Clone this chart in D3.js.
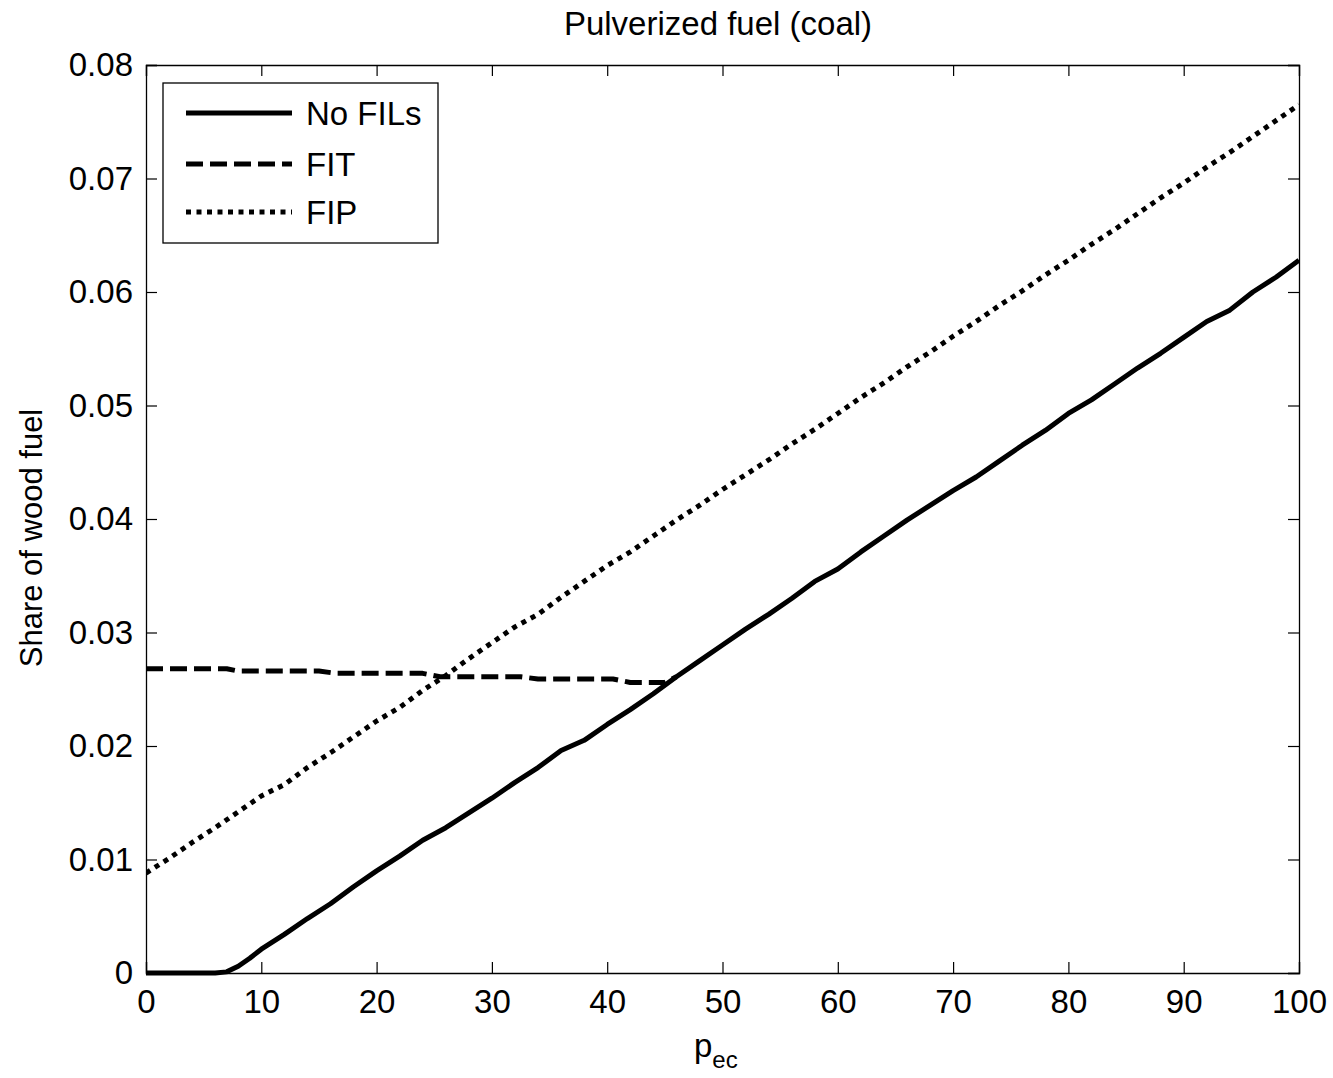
<!DOCTYPE html>
<html>
<head>
<meta charset="utf-8">
<script src="https://cdn.jsdelivr.net/npm/d3@7/dist/d3.min.js"></script>
<style>
  html, body { margin: 0; padding: 0; background: #fff; }
  svg { display: block; font-family: "Liberation Sans", Arial, sans-serif; }
</style>
</head>
<body>
<svg id="chart" width="1333" height="1078"></svg>
<script>
// Share of wood fuel vs. p_ec for a pulverized-fuel (coal) plant
const xTicks = [0, 10, 20, 30, 40, 50, 60, 70, 80, 90, 100];
const yTicks = [0, 0.01, 0.02, 0.03, 0.04, 0.05, 0.06, 0.07, 0.08];
const yTickLabels = ["0", "0.01", "0.02", "0.03", "0.04", "0.05", "0.06", "0.07", "0.08"];

// No FILs
const noFilsX = [0, 2, 4, 6, 7, 8, 9, 10, 12, 14, 16, 18, 20, 22, 24, 26, 28, 30, 32, 34, 36, 38, 40,
  42, 44, 46, 48, 50, 52, 54, 56, 58, 60, 62, 64, 66, 68, 70, 72, 74, 76, 78, 80,
  82, 84, 86, 88, 90, 92, 94, 96, 98, 100];
const noFilsY = [0, 0, 0, 0, 0.0001, 0.0006, 0.0013, 0.0021, 0.0034, 0.0048, 0.0061, 0.0076, 0.0090, 0.0103, 0.0117, 0.0128, 0.0141, 0.0154, 0.0168, 0.0181, 0.0196, 0.0205, 0.0219,
  0.0232, 0.0246, 0.0261, 0.0275, 0.0289, 0.0303, 0.0316, 0.0330, 0.0345, 0.0356, 0.0371, 0.0385, 0.0399, 0.0412, 0.0425, 0.0437, 0.0451, 0.0465, 0.0478, 0.0493,
  0.0505, 0.0519, 0.0533, 0.0546, 0.0560, 0.0574, 0.0584, 0.0600, 0.0613, 0.0628];

// FIT (follows the No FILs curve beyond the crossing)
const fitX = [0, 7, 8, 15, 16.5, 24, 25.5, 32.5, 34, 40.5, 42, 45, 46];
const fitY = [0.0268, 0.0268, 0.0266, 0.0266, 0.0264, 0.0264, 0.0261, 0.0261, 0.0259, 0.0259, 0.0256, 0.0256, 0.0261];

// FIP
const fipX = [0, 2, 4, 6, 8, 10, 12, 14, 16, 18, 20, 22, 24, 26, 28, 30, 32, 34, 36, 38, 40,
  42, 44, 46, 48, 50, 52, 54, 56, 58, 60, 62, 64, 66, 68, 70, 72, 74, 76, 78, 80,
  82, 84, 86, 88, 90, 92, 94, 96, 98, 100];
const fipY = [0.0088, 0.0101, 0.0115, 0.0128, 0.0142, 0.0156, 0.0166, 0.0181, 0.0194, 0.0208, 0.0222, 0.0234, 0.0249, 0.0262, 0.0277, 0.0291, 0.0305, 0.0316, 0.0331, 0.0345, 0.0359,
  0.0371, 0.0385, 0.0399, 0.0412, 0.0426, 0.0439, 0.0452, 0.0466, 0.0479, 0.0493, 0.0507, 0.0520, 0.0534, 0.0547, 0.0561, 0.0574, 0.0588, 0.0601, 0.0615, 0.0628,
  0.0642, 0.0655, 0.0669, 0.0683, 0.0696, 0.0710, 0.0723, 0.0737, 0.0751, 0.0765];

const seriesNames = ["No FILs", "FIT", "FIP"];

const svg = d3.select("#chart");
const L = 146, T = 65, R = 1299, B = 973;

const x = d3.scaleLinear().domain([0, 100]).range([L, R]);
const y = d3.scaleLinear().domain([0, 0.08]).range([B, T]);

const styles = [
  { width: 5, dash: null },
  { width: 5, dash: "17,7" },
  { width: 5, dash: "5,5.5" }
];

const seriesData = [
  d3.zip(noFilsX, noFilsY),
  d3.zip(fitX, fitY),
  d3.zip(fipX, fipY)
];

// Plot background
svg.append("rect").attr("x", L).attr("y", T).attr("width", R - L).attr("height", B - T)
  .attr("fill", "#fff");

const line = d3.line().x(d => x(d[0])).y(d => y(d[1]));

const plot = svg.append("g");
plot.append("defs").append("clipPath").attr("id", "clip")
  .append("rect").attr("x", L).attr("y", T - 3).attr("width", R - L).attr("height", B - T + 6);

seriesData.forEach((data, i) => {
  plot.append("path")
    .datum(data)
    .attr("d", line)
    .attr("fill", "none")
    .attr("stroke", "#000")
    .attr("stroke-width", styles[i].width)
    .attr("stroke-dasharray", styles[i].dash)
    .attr("stroke-linejoin", "round")
    .attr("clip-path", "url(#clip)");
});

// Axes: ticks inward on all four sides
const tickLen = 11;
const fontSize = 33;

const axisBottom = d3.axisBottom(x).tickValues(xTicks).tickSize(-tickLen).tickPadding(tickLen + 6)
  .tickFormat(d3.format("d"));
const axisTop = d3.axisTop(x).tickValues(xTicks).tickSize(-tickLen).tickFormat("");
const axisLeft = d3.axisLeft(y).tickValues(yTicks).tickSize(-tickLen).tickPadding(13)
  .tickFormat((d, i) => yTickLabels[i]);
const axisRight = d3.axisRight(y).tickValues(yTicks).tickSize(-tickLen).tickFormat("");

function styleAxis(g) {
  g.select(".domain").attr("stroke", "#000").attr("stroke-width", 1.3);
  g.selectAll(".tick line").attr("stroke", "#000").attr("stroke-width", 1.2);
  g.selectAll(".tick text").attr("fill", "#000").attr("font-size", fontSize)
    .attr("font-family", "'Liberation Sans', Arial, sans-serif");
}

svg.append("g").attr("transform", `translate(0,${B})`).call(axisBottom).call(styleAxis);
svg.append("g").attr("transform", `translate(0,${T})`).call(axisTop).call(styleAxis);
svg.append("g").attr("transform", `translate(${L},0)`).call(axisLeft).call(styleAxis);
svg.append("g").attr("transform", `translate(${R},0)`).call(axisRight).call(styleAxis);

// Title
svg.append("text").attr("x", 718).attr("y", 35)
  .attr("text-anchor", "middle").attr("font-size", 33).attr("fill", "#000")
  .text("Pulverized fuel (coal)");

// X label with subscript
const xl = svg.append("text").attr("x", 694).attr("y", 1057)
  .attr("font-size", fontSize).attr("fill", "#000");
xl.append("tspan").text("p");
xl.append("tspan").attr("dy", 11).attr("font-size", 24).text("ec");

// Y label
svg.append("text")
  .attr("transform", `translate(42,538) rotate(-90)`)
  .attr("text-anchor", "middle").attr("font-size", 31).attr("fill", "#000")
  .text("Share of wood fuel");

// Legend
const leg = svg.append("g");
leg.append("rect").attr("x", 163).attr("y", 83).attr("width", 275).attr("height", 160)
  .attr("fill", "#fff").attr("stroke", "#000").attr("stroke-width", 1.3);
const rowsY = [113, 164, 212];
seriesNames.forEach((name, i) => {
  leg.append("line")
    .attr("x1", 186).attr("x2", 292).attr("y1", rowsY[i]).attr("y2", rowsY[i])
    .attr("stroke", "#000").attr("stroke-width", styles[i].width)
    .attr("stroke-dasharray", styles[i].dash);
  leg.append("text").attr("x", 306).attr("y", rowsY[i]).attr("dy", "0.36em")
    .attr("font-size", fontSize).attr("fill", "#000").text(name);
});
</script>
</body>
</html>
